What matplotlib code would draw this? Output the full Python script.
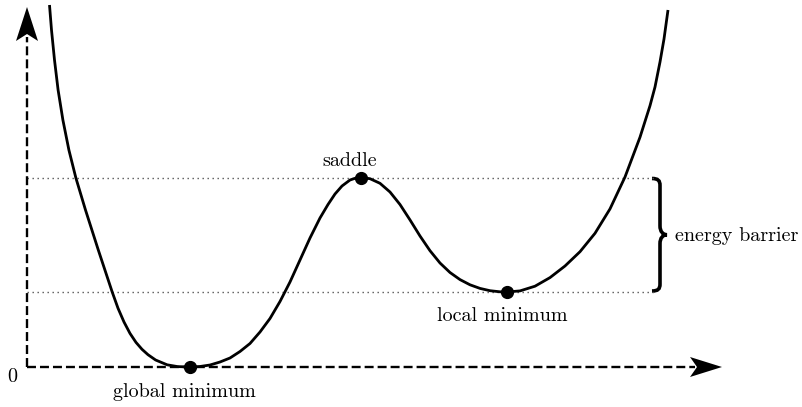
import matplotlib.pyplot as plt
from matplotlib.patches import Polygon, PathPatch
from matplotlib.path import Path

# curve (x position, energy)
curve_x = [49.5, 51.5, 54.5, 58.1, 62.9, 68.9, 75.9, 85.5, 98.3, 112.2, 118, 124, 130,
           136, 142, 148, 155.6, 167.1, 177.6, 190,
           200, 210, 220, 230, 240, 250, 260, 270, 280, 290, 300, 310, 320, 328, 335,
           342, 350, 356, 361,
           370, 380, 390, 400, 410, 420, 430, 440, 450, 460, 470, 480, 490, 500, 507,
           520, 535, 550, 565, 580, 595, 610, 625, 640, 650, 655, 660, 664, 668]
curve_e = [362, 337, 307, 277, 247, 217, 189, 157, 117, 75, 58.8, 45, 33.6,
           24.6, 17.7, 12.3, 7, 2.2, 0.4, 0,
           0.5, 2, 5, 9, 15.5, 23.5, 35, 48.5, 65.5, 85, 107, 129, 149, 162.5, 173,
           181, 187, 189, 189.5,
           188.3, 183.7, 175, 162.5, 147.1, 131, 116.3, 104, 94.5, 87.4, 82.2, 78.6, 76.3, 75.2, 75,
           76.1, 80.8, 89.4, 101, 115.3, 133.7, 158.1, 190, 229.8, 261.3, 280, 305, 328, 357]

points = {
    'global minimum': (190, 0),
    'saddle': (361, 189.5),
    'local minimum': (507, 75),
}
labels = ['global minimum', 'saddle', 'local minimum', 'energy barrier', '0']

fig = plt.figure(figsize=(8.02, 4.07), dpi=100)
ax = fig.add_axes([0, 0, 1, 1])
ax.set_xlim(0, 802)
ax.set_ylim(-40, 367)
ax.axis('off')

font = dict(family='cmr10', size=14.5)

e_top = points['saddle'][1]
e_bot = points['local minimum'][1]

# dotted reference levels
for e in (e_top, e_bot):
    ax.plot([27, 654], [e, e], color='#555555', lw=1, ls=(0, (1, 2.6)))

# axes (dashed with stealth heads)
ax.plot([27, 27], [0, 330], color='black', lw=1.7, ls=(0, (3.8, 1.7)))
ax.plot([27, 695], [0, 0], color='black', lw=1.7, ls=(0, (3.8, 1.7)))
ax.add_patch(Polygon([[27, 360], [16, 326], [27, 333], [38, 326]], closed=True,
                     color='black', lw=0))
ax.add_patch(Polygon([[722, 0], [690, 10], [697, 0], [690, -10]], closed=True,
                     color='black', lw=0))

# the energy curve
ax.plot(curve_x, curve_e, color='black', lw=2, solid_capstyle='butt',
        solid_joinstyle='round', zorder=3)

for name, (px, pe) in points.items():
    ax.plot(px, pe, 'o', color='black', ms=8.5, zorder=4)

# brace for the barrier
mid = (e_top + e_bot) / 2
bx, tip = 660, 667
verts = [(652, e_top - 1), (658, e_top - 1), (bx, e_top - 3), (bx, e_top - 8),
         (bx, mid + 9),
         (bx, mid + 3), (tip - 4, mid), (tip, mid),
         (tip - 4, mid), (bx, mid - 3), (bx, mid - 9),
         (bx, e_bot + 8),
         (bx, e_bot + 3), (658, e_bot + 1), (652, e_bot + 1)]
codes = [Path.MOVETO, Path.CURVE4, Path.CURVE4, Path.CURVE4,
         Path.LINETO,
         Path.CURVE4, Path.CURVE4, Path.CURVE4,
         Path.CURVE4, Path.CURVE4, Path.CURVE4,
         Path.LINETO,
         Path.CURVE4, Path.CURVE4, Path.CURVE4]
ax.add_patch(PathPatch(Path(verts, codes), fill=False, lw=2.6, color='black',
                       capstyle='butt'))

ax.text(184, -25, labels[0], ha='center', va='center', **font)
ax.text(350, 206, labels[1], ha='center', va='center', **font)
ax.text(502, 51, labels[2], ha='center', va='center', **font)
ax.text(675, 131, labels[3], ha='left', va='center', **font)
ax.text(12, -10, labels[4], ha='center', va='center', **font)

fig.savefig('out.png', dpi=100)
